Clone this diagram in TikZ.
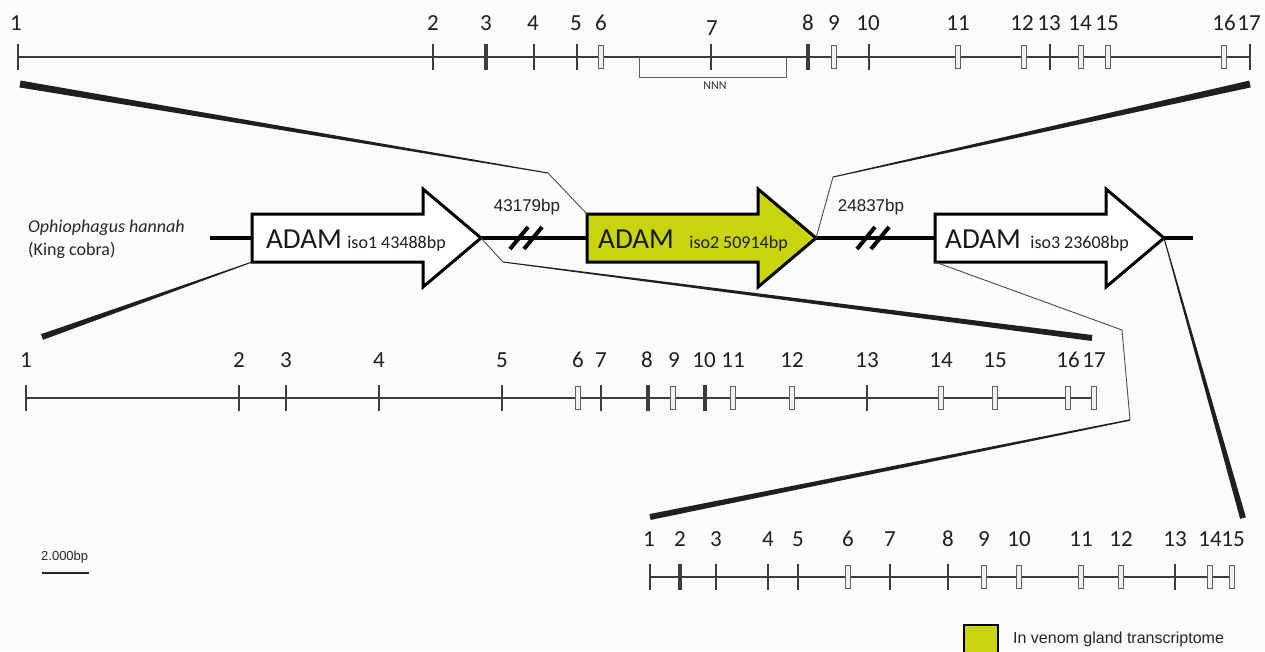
\documentclass[tikz,border=0pt]{standalone}
\usepackage{fontspec}
\setmainfont{Carlito}
\newfontfamily\arialfont{Liberation Sans}
\usetikzlibrary{calc}
\definecolor{venom}{RGB}{200,212,12}
\definecolor{paper}{RGB}{251,251,251}
\definecolor{track}{RGB}{60,60,60}
\definecolor{boxedge}{RGB}{95,95,95}
% tapered band: thick end #1, thin end #2, half widths #3 and #4
\newcommand\drawtaper[4]{%
  \fill[black!88] ($(#1)!#3!90:(#2)$) -- ($(#1)!#3!-90:(#2)$)
    -- ($(#2)!#4!90:(#1)$) -- ($(#2)!#4!-90:(#1)$) -- cycle;}
\tikzset{
  track/.style={draw=track, line width=2.6pt},
  exontick/.style={fill=track, draw=none, minimum width=2.4pt, minimum height=26pt, inner sep=0pt},
  exonthick/.style={exontick, minimum width=3.2pt},
  exonbox/.style={draw=boxedge, fill=white!88!gray, line width=1pt, minimum width=5pt, minimum height=23pt, inner sep=0pt},
  numlab/.style={font=\fontsize{23}{25}\selectfont, inner sep=0pt, text=black!88},
  gene/.style={draw=black, line width=3pt, line join=miter},
  adam/.style={font=\fontsize{29}{31}\selectfont, anchor=base west, inner sep=0pt, text=black!90},
  iso/.style={font=\fontsize{18}{20}\selectfont, anchor=base west, inner sep=0pt, text=black!88},
  bplab/.style={font=\arialfont\fontsize{17}{19}\selectfont, inner sep=0pt, text=black!88},
  zoomline/.style={draw=black!70, line width=0.9pt},
  breakmark/.style={draw=black, line width=4pt},
}
\begin{document}
\begin{tikzpicture}[x=1pt,y=-1pt]
\fill[paper] (0,0) rectangle (1265,651);
\useasboundingbox (0,0) rectangle (1265,651);

% ---------- isoform 2 exon map (top) ----------
\draw[track] (18,57) coordinate (g2s) -- (1250,57) coordinate (g2e);
\draw[draw=boxedge, line width=0.9pt] (639,57) -- (639,77) -- (786,77) -- (786,57);
\node[font=\fontsize{12}{14}\selectfont, inner sep=0pt, text=black!80] (nnn) at (715,86) {NNN};
\foreach \x in {18,433,534,577,711,869,1050,1250} \node[exontick] (g2t\x) at (\x,57) {};
\foreach \x in {486,808} \node[exonthick] (g2t\x) at (\x,57) {};
\foreach \x in {601,834,958,1024,1081,1108,1224} \node[exonbox] (g2t\x) at (\x,57) {};
\foreach \x/\n in {16/1,433/2,486/3,533/4,576/5,601/6,808/8,834/9,868/10,958/11,1022/12,1049/13,1080/14,1107/15,1224/16,1249/17}
  \node[numlab] (g2l\n) at (\x,23) {\n};
\node[numlab] (g2l7) at (712,28) {7};

% ---------- isoform 1 exon map ----------
\draw[track] (26,398) coordinate (g1s) -- (1094,398) coordinate (g1e);
\foreach \x in {26,239,286,379,502,601,867} \node[exontick] (g1t\x) at (\x,398) {};
\foreach \x in {648,705} \node[exonthick] (g1t\x) at (\x,398) {};
\foreach \x in {578,673,733,792,941,995,1068,1094} \node[exonbox] (g1t\x) at (\x,398) {};
\foreach \x/\n in {26/1,239/2,286/3,379/4,502/5,578/6,601/7,647/8,674/9,704/10,733/11,792/12,867/13,941/14,995/15,1068/16,1094/17}
  \node[numlab] (g1l\n) at (\x,360) {\n};

% ---------- isoform 3 exon map ----------
\draw[track] (650,577) coordinate (g3s) -- (1232,577) coordinate (g3e);
\foreach \x in {650,716,768,798,890,948,1175} \node[exontick] (g3t\x) at (\x,577) {};
\foreach \x in {680} \node[exonthick] (g3t\x) at (\x,577) {};
\foreach \x in {848,984,1019,1081,1121,1210,1232} \node[exonbox] (g3t\x) at (\x,577) {};
\foreach \x/\n in {649/1,680/2,716/3,768/4,798/5,848/6,890/7,948/8,984/9,1019/10,1081/11,1121/12,1175/13,1210/14,1233/15}
  \node[numlab] (g3l\n) at (\x,539) {\n};

% ---------- genomic locus ----------
\draw[draw=black, line width=4pt] (210,238) coordinate (locs) -- (1193,238) coordinate (loce);
\draw[breakmark] (510,249) coordinate (b1a) -- (528,227) coordinate (b1b);
\draw[breakmark] (524,249) coordinate (b1c) -- (542,227) coordinate (b1d);
\draw[breakmark] (857,249) coordinate (b2a) -- (875,227) coordinate (b2b);
\draw[breakmark] (871,249) coordinate (b2c) -- (889,227) coordinate (b2d);
\node[bplab] (gap1) at (527,207) {43179bp};
\node[bplab] (gap2) at (871,207) {24837bp};

\draw[gene, fill=white] (252,214) coordinate (a1tl) -- (423,214) -- (423,189) -- (481,238) coordinate (a1tip)
  -- (423,287) -- (423,262) -- (252,262) coordinate (a1bl) -- cycle;
\draw[gene, fill=venom] (587,214) coordinate (a2tl) -- (758,214) -- (758,189) -- (816,238) coordinate (a2tip)
  -- (758,287) -- (758,262) -- (587,262) coordinate (a2bl) -- cycle;
\draw[gene, fill=white] (935,214) coordinate (a3tl) -- (1106,214) -- (1106,189) -- (1164,238) coordinate (a3tip)
  -- (1106,287) -- (1106,262) -- (935,262) coordinate (a3bl) -- cycle;

\node[adam] (adam1) at (266,248) {ADAM};
\node[iso] (iso1) at ([xshift=5pt]adam1.base east) {iso1 43488bp};
\node[adam] (adam2) at (598,248) {ADAM};
\node[iso] (iso2) at ([xshift=15pt]adam2.base east) {iso2 50914bp};
\node[adam] (adam3) at (945,248) {ADAM};
\node[iso] (iso3) at ([xshift=9pt]adam3.base east) {iso3 23608bp};

\node[anchor=west, inner sep=0pt, font=\itshape\fontsize{18}{20}\selectfont, text=black!85] (species) at (28,228) {Ophiophagus hannah};
\node[anchor=west, inner sep=0pt, font=\fontsize{18}{20}\selectfont, text=black!85] (common) at (28,250) {(King cobra)};

% ---------- zoom connectors ----------
\coordinate (z1a) at (20,84);   \coordinate (z1b) at (548,173);
\coordinate (z2a) at (1250,84); \coordinate (z2b) at (833,177);
\coordinate (z3a) at (42,337);
\coordinate (z4a) at (503,262); \coordinate (z4b) at (1092,338);
\coordinate (z5a) at (1122,330); \coordinate (z5b) at (1130,420); \coordinate (z5c) at (650,517);
\coordinate (z6b) at (1243,518);

\drawtaper{z1a}{z1b}{3.5pt}{0.5pt}
\draw[zoomline] (z1b) -- (a2tl);
\drawtaper{z2a}{z2b}{3.5pt}{0.5pt}
\draw[zoomline] (z2b) -- (a2tip);
\drawtaper{z3a}{a1bl}{3pt}{0.5pt}
\draw[zoomline] (a1tip) -- (z4a);
\drawtaper{z4b}{z4a}{3pt}{0.5pt}
\draw[zoomline] (a3bl) -- (z5a) -- (z5b);
\drawtaper{z5c}{z5b}{3pt}{0.7pt}
\drawtaper{z6b}{a3tip}{3pt}{0.5pt}

% ---------- scale bar ----------
\node[anchor=west, inner sep=0pt, font=\arialfont\fontsize{13}{15}\selectfont, text=black!85] (scalelab) at (41,557) {2.000bp};
\draw[draw=black!85, line width=2.5pt] (42,573) coordinate (sb1) -- (89,573) coordinate (sb2);

% ---------- legend ----------
\draw[draw=black, line width=2.5pt, fill=venom] (964,625) coordinate (legtl) rectangle (998,660);
\node[anchor=west, inner sep=0pt, font=\arialfont\fontsize{16}{18}\selectfont, text=black!85] (legtext) at (1013,639) {In venom gland transcriptome};
\end{tikzpicture}
\end{document}
